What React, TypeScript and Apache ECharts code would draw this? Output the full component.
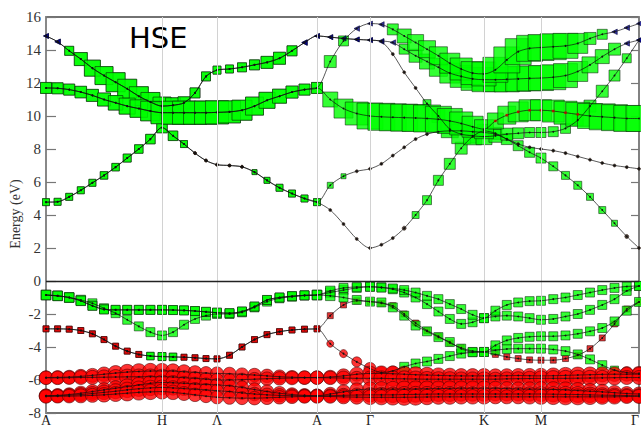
import { useEffect, useRef } from "react";
import * as echarts from "echarts";

// k-path grid (A-H-L-A-Γ-K-M-Γ)
const K_PATH = [
  0, 11.6, 23.2, 34.8, 46.4, 58, 69.6, 81.2, 92.8, 104.4, 116,
  127, 138, 149, 160, 171,
  183.5, 196, 208.5, 221, 233.5, 246, 258.5, 271,
  284.25, 297.5, 310.75, 324,
  335.4, 346.8, 358.2, 369.6, 381, 392.4, 403.8, 415.2, 426.6, 438,
  449.4, 460.8, 472.2, 483.6, 495,
  507.25, 519.5, 531.75, 544, 556.25, 568.5, 580.75, 593,
];
const SYM_POS = [0, 116, 171, 271, 324, 438, 495, 593];
const SYM_LABELS = ["A", "H", "Λ", "A", "Γ", "K", "M", "Γ"];
const Y_TICKS = [-8, 16, 2]; // min, max, step

// ---------- valence bands ----------
const V15_AHLA_E = [-0.85, -0.9, -1.0, -1.2, -1.5, -1.72, -1.75, -1.75, -1.75, -1.75, -1.75,
  -1.76, -1.78, -1.82, -1.87, -1.92,
  -1.95, -1.85, -1.55, -1.15, -1.0, -0.92, -0.87, -0.85];
const V1_REST_E = [-0.6, -0.42, -0.36, -0.35,
  -0.4, -0.45, -0.55, -0.7, -0.9, -1.1, -1.4, -1.7, -2.05, -2.25,
  -1.8, -1.45, -1.3, -1.22, -1.2,
  -1.1, -1.0, -0.85, -0.7, -0.55, -0.42, -0.33, -0.3];
const V5_REST_E = [-0.9, -1.0, -1.15, -1.25,
  -1.3, -1.6, -2.1, -2.7, -3.05, -3.4, -3.7, -4.1, -4.3, -4.3,
  -3.9, -3.6, -3.45, -3.38, -3.35,
  -3.35, -3.3, -3.2, -3.05, -2.85, -2.45, -1.8, -1.27];
const V2_E = [-0.85, -0.9, -1.0, -1.15, -1.35, -1.65, -1.95, -2.35, -2.75, -3.1, -3.3,
  -3.1, -2.65, -2.3, -2.1, -2.0,
  -2.0, -1.9, -1.6, -1.25, -1.05, -0.95, -0.88, -0.85,
  -0.7, -0.55, -0.42, -0.35,
  -0.38, -0.5, -0.7, -1.0, -1.4, -1.85, -2.3, -2.6, -2.5, -2.25,
  -2.15, -2.1, -2.15, -2.25, -2.35,
  -2.3, -2.15, -2.0, -1.75, -1.45, -1.1, -0.6, -0.3];
const VG_W = [30, 30, 30, 30, 28, 28, 28, 28, 28, 28, 28,
  28, 28, 28, 28, 28,
  28, 28, 28, 28, 28, 28, 28, 30,
  30, 28, 28, 28,
  28, 28, 28, 28, 28, 28, 28, 28, 28, 28,
  28, 28, 28, 28, 28,
  28, 28, 28, 28, 28, 28, 28, 28];
const VG_C = "ggggggggggg ggggg gggggggg gggg gggggggggg ggggg gggggggg";

const V34_AHLA_E = [-2.9, -2.9, -2.92, -3.0, -3.2, -3.55, -3.95, -4.25, -4.45, -4.55, -4.58,
  -4.6, -4.62, -4.65, -4.7, -4.72,
  -4.5, -4.0, -3.55, -3.25, -3.07, -2.97, -2.92, -2.9];
const V34_AHLA_W = [16, 16, 16, 16, 16, 16, 16, 16, 16, 22, 24,
  22, 16, 16, 16, 16,
  16, 16, 16, 16, 16, 16, 16, 16];
const V34_AHLA_C = "qqqqqqqqqgg gqqqq qqqqqqqq";
const V3_REST_E = [-2.1, -1.45, -1.2, -1.25,
  -1.35, -1.5, -2.0, -2.55, -3.0, -3.35, -3.75, -4.05, -4.25, -4.3,
  -4.45, -4.6, -4.7, -4.78, -4.8,
  -4.8, -4.7, -4.5, -4.1, -3.45, -2.6, -1.7, -1.27];
const V3_REST_W = [16, 16, 16, 16,
  16, 16, 16, 16, 16, 16, 16, 16, 16, 16,
  16, 16, 16, 16, 16,
  16, 16, 16, 16, 16, 16, 16, 16];
const V3_REST_C = "qqqq qqqqqqqqqq qqqqq qqqqqqqq";
const V4_REST_E = [-3.8, -4.4, -4.9, -5.3,
  -5.55, -5.45, -5.2, -5.0, -4.88, -4.72, -4.55, -4.4, -4.32, -4.3,
  -4.2, -4.12, -4.1, -4.1, -4.1,
  -4.15, -4.25, -4.45, -4.75, -5.1, -5.4, -5.55, -5.6];
const V4_REST_W = [20, 24, 32, 40,
  40, 32, 28, 28, 28, 28, 28, 28, 28, 28,
  28, 28, 28, 28, 28,
  28, 28, 28, 28, 28, 24, 40, 48];
const V4_REST_C = "rrrr rrgggggggg ggggg ggggggrr";

const R1_E = [-5.85, -5.84, -5.82, -5.78, -5.72, -5.65, -5.58, -5.52, -5.48, -5.46, -5.45,
  -5.46, -5.5, -5.54, -5.58, -5.6,
  -5.62, -5.66, -5.7, -5.75, -5.8, -5.83, -5.85, -5.85,
  -5.82, -5.75, -5.65, -5.6,
  -5.6, -5.62, -5.65, -5.68, -5.7, -5.72, -5.74, -5.75, -5.75, -5.75,
  -5.75, -5.74, -5.73, -5.74, -5.75,
  -5.74, -5.72, -5.7, -5.68, -5.66, -5.65, -5.65, -5.65];
const R2_E = [-5.87, -5.87, -5.86, -5.85, -5.84, -5.83, -5.82, -5.81, -5.8, -5.8, -5.8,
  -5.82, -5.86, -5.9, -5.95, -6.0,
  -6.0, -5.98, -5.95, -5.92, -5.9, -5.88, -5.86, -5.86,
  -5.87, -5.88, -5.9, -5.9,
  -5.9, -5.92, -5.93, -5.94, -5.95, -5.95, -5.95, -5.95, -5.95, -5.95,
  -5.95, -5.93, -5.92, -5.91, -5.9,
  -5.9, -5.9, -5.89, -5.88, -5.87, -5.86, -5.85, -5.85];
const R3_E = [-6.95, -6.93, -6.88, -6.8, -6.7, -6.6, -6.5, -6.4, -6.3, -6.2, -6.15,
  -6.17, -6.2, -6.24, -6.27, -6.3,
  -6.35, -6.45, -6.58, -6.7, -6.8, -6.88, -6.93, -6.95,
  -6.85, -6.72, -6.6, -6.55,
  -6.55, -6.55, -6.55, -6.54, -6.53, -6.52, -6.51, -6.5, -6.5, -6.5,
  -6.5, -6.52, -6.54, -6.55, -6.55,
  -6.57, -6.6, -6.64, -6.68, -6.72, -6.77, -6.82, -6.85];
const R4_E = [-6.96, -6.95, -6.92, -6.88, -6.82, -6.75, -6.68, -6.6, -6.53, -6.48, -6.45,
  -6.48, -6.52, -6.56, -6.6, -6.65,
  -6.7, -6.78, -6.85, -6.9, -6.93, -6.95, -6.96, -6.96,
  -6.95, -6.93, -6.91, -6.9,
  -6.9, -6.9, -6.88, -6.87, -6.86, -6.85, -6.85, -6.85, -6.85, -6.85,
  -6.85, -6.85, -6.85, -6.85, -6.85,
  -6.86, -6.87, -6.88, -6.9, -6.92, -6.93, -6.94, -6.95];
const R5_E = [-7.0, -6.99, -6.98, -6.96, -6.93, -6.9, -6.85, -6.8, -6.75, -6.72, -6.7,
  -6.75, -6.82, -6.9, -6.98, -7.05,
  -7.08, -7.1, -7.1, -7.08, -7.05, -7.02, -7.0, -7.0,
  -7.0, -7.02, -7.04, -7.05,
  -7.05, -7.05, -7.05, -7.04, -7.03, -7.02, -7.02, -7.02, -7.02, -7.02,
  -7.02, -7.02, -7.02, -7.02, -7.02,
  -7.02, -7.02, -7.02, -7.02, -7.02, -7.02, -7.0, -7.0];
const R_W = [46, 46, 46, 48, 48, 50, 52, 54, 54, 54, 52,
  50, 48, 46, 44, 44,
  44, 44, 46, 46, 46, 46, 46, 46,
  46, 48, 48, 50,
  52, 54, 56, 56, 54, 52, 52, 50, 50, 50,
  48, 48, 48, 50, 52,
  54, 56, 56, 54, 52, 50, 48, 48];
const R_C = "rrrrrrrrrrr rrrrr rrrrrrrr rrrr rrrrrrrrrr rrrrr rrrrrrrr";

// ---------- conduction bands ----------
const C01_AHLA_E = [4.78, 4.8, 5.1, 5.5, 5.95, 6.4, 6.9, 7.45, 8.0, 8.6, 9.3,
  8.8, 8.3, 7.75, 7.3, 7.05,
  7.0, 6.92, 6.6, 6.1, 5.65, 5.3, 5.0, 4.78];
const C01_AHLA_W = [20, 20, 20, 20, 20, 22, 22, 24, 26, 30, 34,
  30, 20, 4, 4, 4,
  4, 4, 12, 16, 20, 20, 20, 20];
const C01_AHLA_C = "ggggggggggg ggkkk kkgggggg";
const C1_REST_E = [5.8, 6.35, 6.65, 6.8,
  7.1, 7.6, 8.1, 8.6, 8.9, 9.05, 9.1, 9.1, 9.05, 9.0,
  8.9, 8.6, 8.3, 8.1, 8.0,
  7.9, 7.75, 7.55, 7.35, 7.15, 7.0, 6.9, 6.8];
const C1_REST_W = [16, 12, 4, 4,
  4, 4, 4, 4, 4, 4, 4, 4, 4, 4,
  4, 4, 4, 4, 4,
  4, 4, 4, 4, 4, 4, 4, 4];
const C1_REST_C = "ggkk kkkkkkkkkk kkkkk kkkkkkkk";
const C0_REST_E = [4.3, 3.45, 2.55, 2.0,
  2.2, 2.6, 3.2, 4.0, 4.9, 6.1, 7.1, 8.05, 8.75, 9.1,
  8.95, 8.6, 8.2, 7.8, 7.45,
  6.95, 6.4, 5.8, 5.1, 4.3, 3.5, 2.7, 2.0];
const C0_REST_W = [4, 4, 4, 4,
  4, 4, 8, 20, 28, 32, 36, 40, 44, 44,
  40, 36, 32, 32, 32,
  28, 24, 24, 20, 20, 16, 8, 4];
const C0_REST_C = "kkkk kkkggggggg ggggg ggggggkk";

const C24_AHLA_E = [11.7, 11.68, 11.6, 11.45, 11.25, 11.0, 10.8, 10.6, 10.45, 10.3, 10.2,
  10.2, 10.2, 10.2, 10.2, 10.22,
  10.25, 10.35, 10.6, 10.95, 11.2, 11.45, 11.6, 11.7];
const C24_AHLA_W = [36, 36, 36, 38, 40, 44, 50, 56, 62, 70, 80,
  84, 84, 84, 84, 84,
  80, 72, 64, 56, 48, 40, 36, 36];
const C24_AHLA_C = "ggggggggggg ggggg gggggggg";
const C2_REST_E = [11.0, 10.45, 10.15, 10.0,
  9.95, 9.92, 9.9, 9.88, 9.85, 9.8, 9.7, 9.55, 9.35, 9.2,
  9.7, 10.05, 10.25, 10.35, 10.35,
  10.3, 10.2, 10.1, 10.0, 9.95, 9.9, 9.85, 9.85];
const C2_REST_W = [52, 68, 84, 96,
  100, 100, 100, 100, 100, 96, 92, 84, 76, 68,
  56, 64, 72, 76, 76,
  80, 84, 88, 92, 96, 96, 96, 96];
const C2_REST_C = "gggg gggggggggg mmmmm mmmggggg";
const C4_REST_E = [13.3, 14.55, 15.3, 15.6,
  15.55, 15.25, 14.85, 14.45, 14.05, 13.65, 13.2, 12.85, 12.6, 12.55,
  12.8, 13.4, 13.9, 14.1, 14.15,
  14.2, 14.25, 14.4, 14.7, 14.95, 15.1, 15.35, 15.6];
const C4_REST_W = [40, 32, 14, 12,
  14, 36, 48, 56, 60, 64, 72, 80, 84, 88,
  92, 96, 96, 96, 96,
  96, 92, 72, 40, 32, 14, 14, 12];
const C4_REST_C = "ggbb bggggggggg ggggg gggggbbb";

const C35_AHLA_E = [14.85, 14.5, 13.95, 13.45, 12.9, 12.45, 12.05, 11.65, 11.2, 10.85, 10.6,
  10.65, 10.8, 11.4, 12.4, 12.78,
  12.85, 12.95, 13.1, 13.25, 13.5, 13.95, 14.45, 14.85];
const C35_AHLA_W = [12, 14, 28, 44, 56, 64, 68, 68, 68, 68, 64,
  52, 40, 32, 28, 24,
  24, 28, 32, 40, 40, 32, 14, 12];
const C35_AHLA_C = "bbggggggggg ggggg ggggggbb";
const C3_REST_E = [14.78, 14.7, 14.64, 14.6,
  14.55, 14.45, 14.05, 13.65, 13.3, 12.95, 12.6, 12.4, 12.25, 12.2,
  12.2, 12.22, 12.25, 12.28, 12.3,
  12.35, 12.45, 12.7, 13.1, 13.6, 14.05, 14.4, 14.6];
const C3_REST_W = [12, 12, 12, 12,
  12, 14, 32, 44, 52, 64, 72, 80, 84, 88,
  88, 92, 92, 92, 92,
  92, 88, 72, 56, 48, 40, 14, 12];
const C3_REST_C = "bbbb bbgggggggg ggggg ggggggbb";
const C5_REST_E = [14.78, 14.7, 14.64, 14.6,
  14.5, 13.75, 12.65, 11.7, 10.75, 10.0, 9.2, 8.9, 8.8, 8.75,
  8.8, 8.9, 8.95, 9.0, 9.0,
  9.05, 9.25, 9.75, 10.6, 11.5, 12.45, 13.5, 14.6];
const C5_REST_W = [12, 12, 12, 12,
  12, 4, 4, 4, 24, 44, 60, 68, 64, 56,
  44, 40, 36, 32, 32,
  32, 32, 36, 40, 40, 36, 28, 12];
const C5_REST_C = "bbbb bkkkgggggg ggggg gggggggb";

type Band = { e: number[]; w: number[]; c: string };
const strip = (s: string) => s.replace(/ /g, "");
const BANDS: Band[] = [
  { e: [...C01_AHLA_E, ...C0_REST_E], w: [...C01_AHLA_W, ...C0_REST_W], c: strip(C01_AHLA_C + C0_REST_C) },
  { e: [...C01_AHLA_E, ...C1_REST_E], w: [...C01_AHLA_W, ...C1_REST_W], c: strip(C01_AHLA_C + C1_REST_C) },
  { e: [...C35_AHLA_E, ...C3_REST_E], w: [...C35_AHLA_W, ...C3_REST_W], c: strip(C35_AHLA_C + C3_REST_C) },
  { e: [...C24_AHLA_E, ...C4_REST_E], w: [...C24_AHLA_W, ...C4_REST_W], c: strip(C24_AHLA_C + C4_REST_C) },
  { e: [...C35_AHLA_E, ...C5_REST_E], w: [...C35_AHLA_W, ...C5_REST_W], c: strip(C35_AHLA_C + C5_REST_C) },
  { e: [...C24_AHLA_E, ...C2_REST_E], w: [...C24_AHLA_W, ...C2_REST_W], c: strip(C24_AHLA_C + C2_REST_C) },
  { e: [...V34_AHLA_E, ...V3_REST_E], w: [...V34_AHLA_W, ...V3_REST_W], c: strip(V34_AHLA_C + V3_REST_C) },
  { e: [...V34_AHLA_E, ...V4_REST_E], w: [...V34_AHLA_W, ...V4_REST_W], c: strip(V34_AHLA_C + V4_REST_C) },
  { e: V2_E, w: VG_W, c: strip(VG_C) },
  { e: [...V15_AHLA_E, ...V1_REST_E], w: VG_W, c: strip(VG_C) },
  { e: [...V15_AHLA_E, ...V5_REST_E], w: VG_W, c: strip(VG_C) },
  { e: R1_E, w: R_W, c: strip(R_C) },
  { e: R2_E, w: R_W, c: strip(R_C) },
  { e: R3_E, w: R_W, c: strip(R_C) },
  { e: R4_E, w: R_W, c: strip(R_C) },
  { e: R5_E, w: R_W, c: strip(R_C) },
];

const MARK: Record<string, { symbol: string; color: string; border: string; rotate: number }> = {
  g: { symbol: "rect", color: "#00ff00", border: "#0a260a", rotate: 0 },
  m: { symbol: "rect", color: "#00ff00", border: "#0a260a", rotate: 0 },
  r: { symbol: "circle", color: "#ff0000", border: "#4a0000", rotate: 0 },
  q: { symbol: "rect", color: "#e00000", border: "#300000", rotate: 0 },
  b: { symbol: "triangle", color: "#00008b", border: "#000033", rotate: 90 },
  k: { symbol: "circle", color: "#2a1a10", border: "#2a1a10", rotate: 0 },
};
const sizeOf = (w: number) => 2 + 0.25 * w;

export default function App() {
  const ref = useRef<HTMLDivElement>(null);
  useEffect(() => {
    document.body.style.margin = "0";
    const chart = echarts.init(ref.current!, null, { renderer: "svg" });
    const series: any[] = [];
    series.push({
      type: "line", data: [], z: 1, silent: true,
      markLine: {
        silent: true, symbol: ["none", "none"], label: { show: false },
        lineStyle: { color: "#d2d2d2", width: 1, type: "solid" },
        data: SYM_POS.slice(1, -1).map((v) => ({ xAxis: v })),
      },
    });
    BANDS.forEach((b) => {
      const pts = K_PATH.map((k, i) => ({ k, e: b.e[i], w: b.w[i], c: b.c[i] })).filter(
        (p) => p.e !== undefined && p.w !== undefined && p.c !== undefined
      );
      series.push({
        type: "scatter", z: 2, silent: true,
        data: pts.map((p) => {
          const m = MARK[p.c] || MARK.k;
          return {
            value: [p.k, p.e], symbol: m.symbol, symbolSize: sizeOf(p.w), symbolRotate: m.rotate,
            itemStyle: { color: m.color, borderColor: m.border, borderWidth: 0.7 },
          };
        }),
      });
      series.push({
        type: "line", z: 3, silent: true, smooth: 0.3,
        data: pts.map((p) => [p.k, p.e]),
        symbol: "circle", symbolSize: 1.8, showSymbol: true, showAllSymbol: true,
        itemStyle: { color: "#111" }, lineStyle: { color: "#111", width: 0.7 },
      });
      const md = pts.filter((p) => p.c === "m");
      if (md.length) {
        series.push({
          type: "scatter", z: 4, silent: true, symbol: "rect", symbolSize: 2.6,
          itemStyle: { color: "#d01000" }, data: md.map((p) => [p.k, p.e]),
        });
      }
    });
    series.push({
      type: "line", data: [], z: 5, silent: true,
      markLine: {
        silent: true, symbol: ["none", "none"], label: { show: false },
        lineStyle: { color: "#222", width: 1.3, type: "solid" },
        data: [{ yAxis: 0 }],
      },
    });

    const yAxisBase = {
      type: "value", min: Y_TICKS[0], max: Y_TICKS[1], interval: Y_TICKS[2],
      splitLine: { show: false },
    };
    chart.setOption({
      animation: false,
      grid: {
        left: 46, right: 2, top: 17, bottom: 14, containLabel: false, outerBoundsMode: "none",
        show: true, borderColor: "#444", borderWidth: 1.5, backgroundColor: "transparent",
      },
      xAxis: {
        type: "value", min: 0, max: 593,
        axisLine: { show: false }, axisTick: { show: false }, splitLine: { show: false },
        axisLabel: {
          customValues: SYM_POS,
          formatter: (v: number) => {
            const i = SYM_POS.indexOf(v);
            return i >= 0 ? SYM_LABELS[i] : "";
          },
          alignMaxLabel: "right",
          fontFamily: "Liberation Serif", fontSize: 14, color: "#222", margin: 0, lineHeight: 14,
        },
      },
      yAxis: [
        {
          ...yAxisBase, position: "left",
          axisLine: { show: true, lineStyle: { color: "#888", width: 2 } },
          axisTick: { show: true, inside: true, length: 10, lineStyle: { color: "#777", width: 1.2 } },
          axisLabel: { fontFamily: "Liberation Serif", fontSize: 15, color: "#333", margin: 5 },
        },
        {
          ...yAxisBase, position: "right",
          axisLine: { show: true, lineStyle: { color: "#888", width: 1.5 } },
          axisTick: { show: true, inside: true, length: 8, lineStyle: { color: "#777", width: 1.2 } },
          axisLabel: { show: false },
        },
      ],
      graphic: [
        {
          type: "text", x: 129, y: 38, silent: true,
          style: { text: "HSE", font: '29px "DejaVu Sans"', fill: "#000", align: "left", verticalAlign: "middle" },
        },
        {
          type: "text", x: 15, y: 214, rotation: Math.PI / 2, silent: true,
          style: { text: "Energy (eV)", font: '14px "Liberation Serif"', fill: "#333", align: "center", verticalAlign: "middle" },
        },
      ],
      series,
    });
    return () => chart.dispose();
  }, []);
  return <div ref={ref} style={{ width: 641, height: 427 }} />;
}
